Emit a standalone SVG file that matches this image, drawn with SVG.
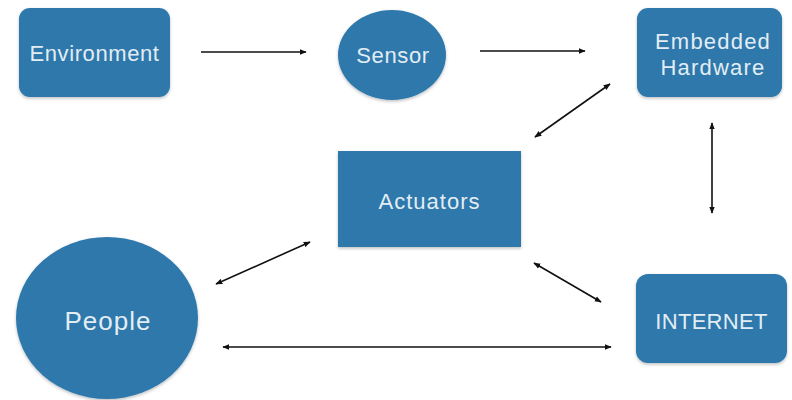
<svg xmlns="http://www.w3.org/2000/svg" width="792" height="400" viewBox="0 0 792 400">
  <defs>
    <marker id="head" viewBox="0 0 10 10" refX="9" refY="5" markerWidth="7" markerHeight="7" orient="auto-start-reverse" markerUnits="userSpaceOnUse">
      <path d="M0,1 L10,5 L0,9 Z" fill="#111"/>
    </marker>
    <filter id="shade" x="-10%" y="-10%" width="120%" height="125%">
      <feDropShadow dx="0" dy="1.5" stdDeviation="1.5" flood-color="#000" flood-opacity="0.25"/>
    </filter>
  </defs>
  <style>
    .node { fill: #2f78ac; filter: url(#shade); }
    .label { fill: #e3edf4; font-family: "Liberation Sans", Arial, sans-serif; font-size: 22px; text-anchor: middle; dominant-baseline: central; }
    .link { stroke: #111; stroke-width: 1.6; fill: none; }
  </style>
  <rect width="792" height="400" fill="#ffffff"/>

  <g id="environment">
    <rect class="node" x="19" y="8" width="151" height="89" rx="11"/>
    <text class="label" x="94.5" y="53" style="letter-spacing:0.6px">Environment</text>
  </g>
  <g id="sensor">
    <ellipse class="node" cx="392" cy="55" rx="54" ry="45"/>
    <text class="label" x="393" y="55" style="letter-spacing:0.6px">Sensor</text>
  </g>
  <g id="embedded-hardware">
    <rect class="node" x="637" y="8" width="145" height="89" rx="11"/>
    <text class="label" x="713" y="41" style="letter-spacing:1.2px">Embedded</text>
    <text class="label" x="713" y="67" style="letter-spacing:1.2px">Hardware</text>
  </g>
  <g id="actuators">
    <rect class="node" x="338" y="151" width="183" height="96"/>
    <text class="label" x="429.5" y="201" style="letter-spacing:1px">Actuators</text>
  </g>
  <g id="people">
    <ellipse class="node" cx="107" cy="318" rx="91" ry="81"/>
    <text class="label" x="108" y="321" style="font-size:26px;letter-spacing:1px">People</text>
  </g>
  <g id="internet">
    <rect class="node" x="636" y="274" width="151" height="89" rx="12"/>
    <text class="label" x="711.5" y="321" style="letter-spacing:0.3px">INTERNET</text>
  </g>

  <g id="connectors">
    <line class="link" x1="201" y1="52" x2="306" y2="52" marker-end="url(#head)"/>
    <line class="link" x1="480" y1="51" x2="585" y2="51" marker-end="url(#head)"/>
    <line class="link" x1="610" y1="84" x2="535" y2="137" marker-start="url(#head)" marker-end="url(#head)"/>
    <line class="link" x1="712" y1="123" x2="712" y2="213" marker-start="url(#head)" marker-end="url(#head)"/>
    <line class="link" x1="534" y1="263" x2="601" y2="302" marker-start="url(#head)" marker-end="url(#head)"/>
    <line class="link" x1="216" y1="284" x2="310" y2="242" marker-start="url(#head)" marker-end="url(#head)"/>
    <line class="link" x1="223" y1="347" x2="611" y2="347" marker-start="url(#head)" marker-end="url(#head)"/>
  </g>
</svg>
